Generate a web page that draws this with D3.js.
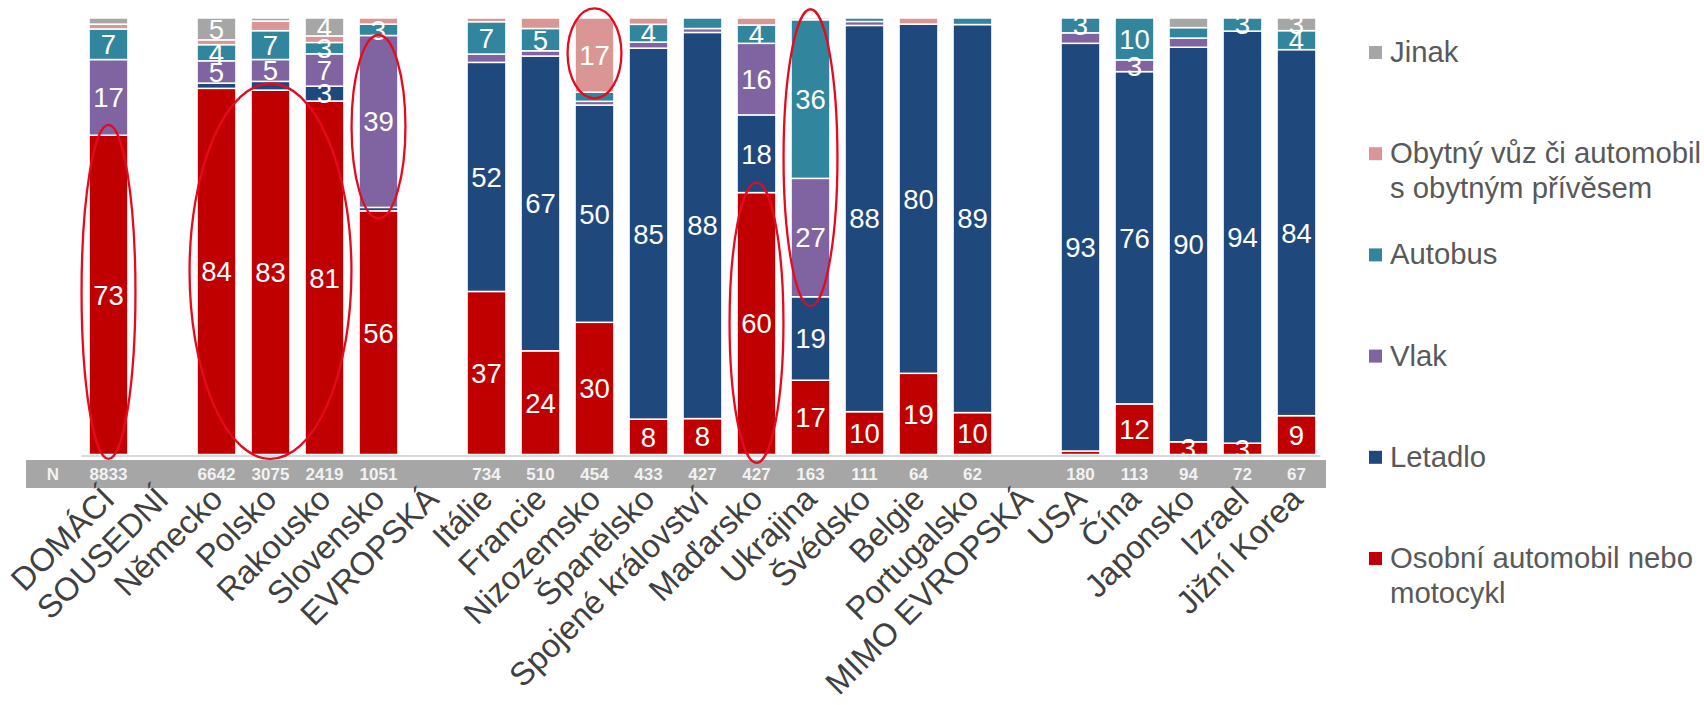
<!DOCTYPE html>
<html>
<head>
<meta charset="utf-8">
<script src="https://cdn.jsdelivr.net/npm/d3@7"></script>
<style>
  html, body { margin: 0; padding: 0; background: #ffffff; }
  svg { display: block; font-family: "Liberation Sans", Arial, sans-serif; }
</style>
</head>
<body>
<svg id="chart" width="1704" height="705"></svg>
<script>
// ---- data ----
const categories = ["DOMÁCÍ", "SOUSEDNÍ", "Německo", "Polsko", "Rakousko", "Slovensko", "EVROPSKÁ",
  "Itálie", "Francie", "Nizozemsko", "Španělsko", "Spojené království", "Maďarsko", "Ukrajina",
  "Švédsko", "Belgie", "Portugalsko", "MIMO EVROPSKÁ", "USA", "Čína", "Japonsko", "Izrael", "Jižní Korea"];
const nValues = ["8833", "", "6642", "3075", "2419", "1051", "", "734", "510", "454", "433", "427", "427",
  "163", "111", "64", "62", "", "180", "113", "94", "72", "67"];

const seriesKeys = ["car", "plane", "train", "bus", "camper", "other"];
const seriesNames = ["Osobní automobil nebo motocykl", "Letadlo", "Vlak", "Autobus",
  "Obytný vůz či automobil s obytným přívěsem", "Jinak"];

const car    = [73.0, 0, 83.8, 83.4, 80.9, 55.7, 0, 37.3, 23.7, 30.3, 8.1, 8.2, 60.0, 17.0, 9.8, 18.6, 9.6, 0, 0.8, 11.6, 2.9, 2.6, 8.9];
const plane  = [0, 0, 1.2, 2.0, 3.4, 0.8, 0, 52.4, 67.4, 49.8, 84.9, 88.2, 17.8, 19.1, 88.4, 80.0, 88.9, 0, 93.4, 76.2, 90.4, 94.4, 83.9];
const train  = [17.3, 0, 5.1, 5.0, 7.4, 39.3, 0, 1.9, 1.2, 0.85, 1.4, 0.9, 16.4, 27.1, 0.9, 0, 0, 0, 2.4, 2.7, 2.1, 0, 0];
const bus    = [7.0, 0, 3.7, 6.6, 2.6, 2.6, 0, 7.4, 5.1, 2.1, 4.05, 2.4, 4.2, 36.3, 0.8, 0, 1.5, 0, 3.4, 9.6, 2.4, 3.0, 4.35];
const camper = [1.1, 0, 1.1, 2.2, 1.5, 1.4, 0, 0.85, 2.4, 17.0, 1.45, 0, 1.6, 0, 0, 1.4, 0, 0, 0, 0, 0, 0, 0];
const other  = [1.4, 0, 5.0, 0.7, 4.1, 0, 0, 0, 0, 0, 0, 0, 0, 0.4, 0, 0, 0, 0, 0, 0, 2.2, 0, 2.9];

const colors = { car: "#C00000", plane: "#1F497D", train: "#8064A2", bus: "#31859C", camper: "#D99694", other: "#A6A6A6" };

// annotation ellipses: category span and value range (percent)
const annotations = [
  { from: "DOMÁCÍ", to: "DOMÁCÍ", lo: -1.0, hi: 75.5 },
  { from: "Německo", to: "Rakousko", lo: -1.0, hi: 85.0 },
  { from: "Slovensko", to: "Slovensko", lo: 54.1, hi: 96.1 },
  { from: "Nizozemsko", to: "Nizozemsko", lo: 81.6, hi: 102.2 },
  { from: "Maďarsko", to: "Maďarsko", lo: -1.9, hi: 62.3 },
  { from: "Ukrajina", to: "Ukrajina", lo: 34.0, hi: 102.0 }
];

// ---- build ----
const raw = { car, plane, train, bus, camper, other };
const rows = categories.map((c, i) => {
  const r = { cat: c };
  let tot = 0;
  seriesKeys.forEach(k => { tot += raw[k][i]; });
  seriesKeys.forEach(k => { r[k] = tot > 0 ? raw[k][i] / tot * 100 : 0; r[k + "_raw"] = raw[k][i]; });
  return r;
});

const svg = d3.select("#chart");
const x = d3.scaleBand().domain(categories).range([81.5, 1323.5]).paddingInner(0.28).paddingOuter(0.14);
const y = d3.scaleLinear().domain([0, 100]).range([454.5, 18]);

const stack = d3.stack().keys(seriesKeys);
const stacked = stack(rows);

// bars
const g = svg.append("g");
stacked.forEach(layer => {
  const key = layer.key;
  g.append("g").selectAll("rect").data(layer).join("rect")
    .attr("x", d => x(d.data.cat))
    .attr("width", x.bandwidth())
    .attr("y", d => y(d[1]))
    .attr("height", d => Math.max(0, y(d[0]) - y(d[1])))
    .attr("fill", colors[key])
    .attr("stroke", "#ffffff")
    .attr("stroke-width", 1.5)
    .attr("display", d => (d[1] - d[0]) > 0 ? null : "none");
});

// value labels
stacked.forEach(layer => {
  const key = layer.key;
  g.append("g").selectAll("text").data(layer.filter(d => Math.round(d.data[key + "_raw"]) >= 3)).join("text")
    .attr("x", d => x(d.data.cat) + x.bandwidth() / 2)
    .attr("y", d => y((d[0] + d[1]) / 2))
    .attr("dy", "0.36em")
    .attr("text-anchor", "middle")
    .attr("fill", "#ffffff")
    .attr("font-size", 27.5)
    .text(d => Math.round(d.data[key + "_raw"]));
});

// axis baseline
svg.append("line")
  .attr("x1", x.range()[0]).attr("x2", x.range()[1] - 3)
  .attr("y1", y(0) + 1.5).attr("y2", y(0) + 1.5)
  .attr("stroke", "#D9D9D9").attr("stroke-width", 2);

// N band
const bandTop = y(0) + 5.5, bandH = 28;
svg.append("rect").attr("x", 26).attr("y", bandTop).attr("width", 1300).attr("height", bandH).attr("fill", "#A6A6A6");
svg.append("text").attr("x", 53).attr("y", bandTop + bandH / 2).attr("dy", "0.36em")
  .attr("text-anchor", "middle").attr("fill", "#F2F2F2").attr("font-weight", "bold").attr("font-size", 17).text("N");
svg.append("g").selectAll("text").data(categories).join("text")
  .attr("x", d => x(d) + x.bandwidth() / 2)
  .attr("y", bandTop + bandH / 2).attr("dy", "0.36em")
  .attr("text-anchor", "middle").attr("fill", "#F2F2F2").attr("font-weight", "bold").attr("font-size", 17)
  .text((d, i) => nValues[i]);

// category labels (rotated)
const axisG = svg.append("g").attr("transform", `translate(0, ${bandTop + bandH})`);
const xAxis = d3.axisBottom(x).tickSize(0).tickPadding(0);
axisG.call(xAxis);
axisG.select(".domain").remove();
axisG.selectAll(".tick text")
  .attr("font-family", "'Liberation Sans', Arial, sans-serif")
  .attr("font-size", 32.5)
  .attr("fill", "#404040")
  .attr("text-anchor", "end")
  .attr("x", 0).attr("y", 0).attr("dy", 0)
  .attr("transform", "translate(8, 13) rotate(-45)");

// annotation ellipses
const pad = 7.5;
svg.append("g").selectAll("ellipse").data(annotations).join("ellipse")
  .attr("cx", d => (x(d.from) + x(d.to) + x.bandwidth()) / 2)
  .attr("cy", d => (y(d.lo) + y(d.hi)) / 2)
  .attr("rx", d => (x(d.to) + x.bandwidth() - x(d.from)) / 2 + pad)
  .attr("ry", d => (y(d.lo) - y(d.hi)) / 2)
  .attr("fill", "none").attr("stroke", "#E60A1E").attr("stroke-width", 2.3);

// legend (reverse order)
const legendKeys = seriesKeys.slice().reverse();
const legendLines = {
  other: ["Jinak"],
  camper: ["Obytný vůz či automobil", "s obytným přívěsem"],
  bus: ["Autobus"],
  train: ["Vlak"],
  plane: ["Letadlo"],
  car: ["Osobní automobil nebo", "motocykl"]
};
const lg = svg.append("g");
legendKeys.forEach((k, i) => {
  const base = 62 + i * 101.2;
  lg.append("rect").attr("x", 1369).attr("y", base - 16).attr("width", 13).attr("height", 13).attr("fill", colors[k]);
  const t = lg.append("text").attr("x", 1390).attr("y", base).attr("font-size", 29.3).attr("fill", "#595959");
  legendLines[k].forEach((line, j) => {
    t.append("tspan").attr("x", 1390).attr("dy", j === 0 ? 0 : 34.5).text(line);
  });
});
</script>
</body>
</html>
